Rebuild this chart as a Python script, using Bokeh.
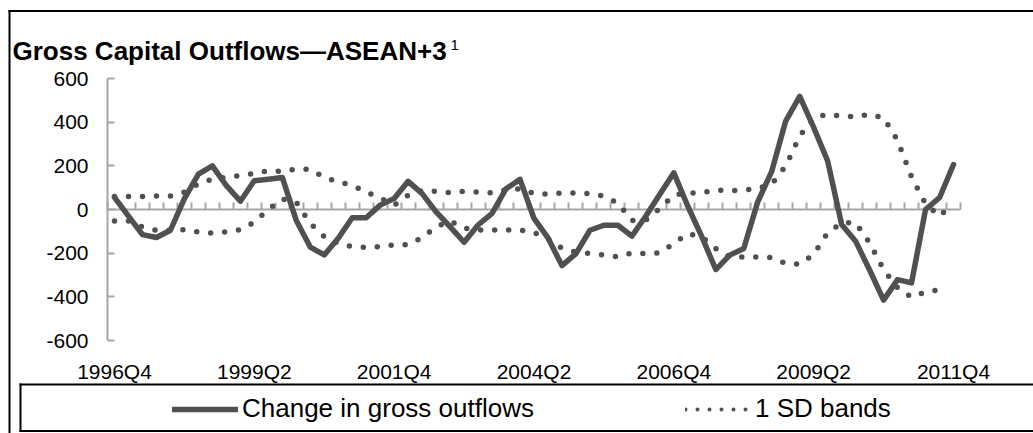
import numpy as np
from bokeh.plotting import figure
from bokeh.models import (Range1d, LinearAxis, FixedTicker, Legend, LegendItem,
                          Label, BoxAnnotation, ColumnDataSource)
from bokeh.embed import file_html
from bokeh.resources import INLINE

# ---------------- data ----------------
quarters = ["1996Q4"] + [f"{y}Q{q}" for y in range(1997, 2012) for q in (1, 2, 3, 4)]
tick_labels = ["1996Q4", "1999Q2", "2001Q4", "2004Q2", "2006Q4", "2009Q2", "2011Q4"]
y_ticks = [-600, -400, -200, 0, 200, 400, 600]

change_in_gross_outflows = [
    56, -30, -115, -128, -95, 50, 162, 200, 109, 38,
    132, 139, 147, -50, -172, -208, -132, -38, -38, 20,
    50, 129, 73, -11, -79, -150, -71, -18, 95, 138,
    -41, -130, -257, -202, -95, -72, -72, -122, -30, 70,
    168, 15, -124, -275, -209, -179, 35, 175, 405, 518,
    376, 222, -69, -145, -277, -415, -321, -336, 0, 54,
    206]

sd_upper = [
    60, 60, 60, 62, 62, 79, 117, 139, 147, 155,
    165, 177, 174, 185, 184, 148, 126, 111, 80, 53,
    20, 65, 88, 83, 77, 83, 80, 76, 90, 95,
    73, 70, 75, 76, 73, 61, 28, -50, -49, 5,
    66, 76, 76, 89, 86, 89, 96, 117, 199, 336,
    420, 436, 428, 424, 436, 420, 317, 148, 26, -31,
    31]

sd_lower = [
    -53, -53, -80, -95, -95, -92, -103, -108, -103, -92,
    -58, 0, 48, 33, -64, -124, -155, -170, -174, -170,
    -162, -162, -129, -79, -53, -86, -94, -94, -94, -94,
    -105, -135, -178, -195, -202, -209, -217, -199, -202, -199,
    -156, -110, -125, -179, -217, -217, -217, -220, -247, -250,
    -206, -107, -61, -61, -153, -275, -359, -402, -378, -367,
    np.nan]

# ---------------- layout (canvas pixels) ----------------
W, H = 1033, 433
PL, PR, PT, PB = 107, 960, 78, 340      # plot area edges
Y0, Y1 = -600, 600

n = len(quarters)
X0, X1 = -0.5, n - 0.5
xpx = (PR - PL) / (X1 - X0)
ypx = (PB - PT) / (Y1 - Y0)
x_range = Range1d(X0 - PL / xpx, X1 + (W - PR) / xpx)
y_range = Range1d(Y0 - (H - PB) / ypx, Y1 + PT / ypx)

LINE = "#505050"
AXIS = "#a6a6a6"
FONT = "Liberation Sans"

src = ColumnDataSource(dict(x=list(range(n)),
                            flow=np.array(change_in_gross_outflows, dtype=float),
                            up=np.array(sd_upper, dtype=float),
                            lo=np.array(sd_lower, dtype=float)))

p = figure(width=W, height=H, output_backend="svg", toolbar_location=None,
           x_range=x_range, y_range=y_range,
           x_axis_location=None, y_axis_location=None, min_border=0)
p.grid.visible = False
p.outline_line_color = None
p.background_fill_color = "white"
p.border_fill_color = "white"

# y axis
ya = LinearAxis(fixed_location=X0, bounds=(Y0, Y1), ticker=FixedTicker(ticks=y_ticks),
                major_label_overrides={t: str(t) for t in y_ticks},
                axis_line_color=AXIS, axis_line_width=2,
                major_tick_line_color=AXIS, major_tick_line_width=2,
                major_tick_in=7, major_tick_out=0, minor_tick_line_color=None,
                major_label_text_font=FONT, major_label_text_font_size="21px",
                major_label_text_color="black", major_label_standoff=19)
p.add_layout(ya, "left")

# x label axis along the bottom of the plot area
label_pos = [quarters.index(t) for t in tick_labels]
xa = LinearAxis(fixed_location=Y0, bounds=(X0, X1), ticker=FixedTicker(ticks=label_pos),
                major_label_overrides={pos: t for pos, t in zip(label_pos, tick_labels)},
                axis_line_color=None, major_tick_line_color=None,
                minor_tick_line_color=None, major_tick_in=0, major_tick_out=0,
                major_label_text_font=FONT, major_label_text_font_size="21px",
                major_label_text_color="black", major_label_standoff=19)
p.add_layout(xa, "below")

# zero line with quarterly tick marks (minor ticks only, no labels)
bounds = [i - 0.5 for i in range(n + 1)]
za = LinearAxis(fixed_location=0, bounds=(X0, X1),
                ticker=FixedTicker(ticks=[], minor_ticks=bounds),
                axis_line_color=AXIS, axis_line_width=2,
                major_tick_line_color=None,
                minor_tick_line_color=AXIS, minor_tick_line_width=2,
                minor_tick_in=7, minor_tick_out=0, level="underlay")
p.add_layout(za, "below")

# series
p.line("x", "up", source=src, line_color=LINE, line_width=5.5,
       line_dash="0 14", line_cap="round")
p.line("x", "lo", source=src, line_color=LINE, line_width=5.5,
       line_dash="0 14", line_cap="round")
r_fl = p.line("x", "flow", source=src, line_color=LINE, line_width=5.5,
              line_join="round", line_cap="round")
# legend-only sample for the dotted bands (smaller dots, as in the key)
r_dot_leg = p.line(x=[np.nan], y=[np.nan], line_color=LINE, line_width=4,
                   line_dash="0 12", line_cap="round")

# legend
leg = Legend(items=[LegendItem(label="Change in gross outflows", renderers=[r_fl]),
                    LegendItem(label="1 SD bands", renderers=[r_dot_leg])],
             orientation="horizontal", location=(172, 9), padding=0, margin=0,
             spacing=151, glyph_width=66, glyph_height=30, label_standoff=4,
             label_text_font=FONT, label_text_font_size="26px",
             label_text_color="black", border_line_color=None,
             background_fill_alpha=0)
p.add_layout(leg, "center")

# frame lines (thin filled boxes in screen pixels)
def bar(left, right, top, bottom):
    p.add_layout(BoxAnnotation(left=left, right=right, top=H - top, bottom=H - bottom,
                               left_units="screen", right_units="screen",
                               top_units="screen", bottom_units="screen",
                               fill_color="black", fill_alpha=1,
                               line_color=None, line_alpha=0))

bar(8, W, 9.5, 11.5)          # outer top
bar(8, 10, 9.5, H)            # outer left
bar(19, W, 383, 385)          # key box top
bar(19, W, 429.5, 431.5)      # key box bottom
bar(19, 21, 383, 431.5)       # key box left

# title
p.add_layout(Label(x=12, y=H - 50, x_units="screen", y_units="screen",
                   text="Gross Capital Outflows\u2014ASEAN+3", text_font=FONT,
                   text_font_style="bold", text_font_size="26px",
                   text_color="black", text_baseline="alphabetic"))
p.add_layout(Label(x=450, y=H - 44, x_units="screen", y_units="screen",
                   text="1", text_font=FONT, text_font_size="15px",
                   text_color="black", text_baseline="alphabetic"))

open("out.html", "w").write(file_html(p, INLINE))
